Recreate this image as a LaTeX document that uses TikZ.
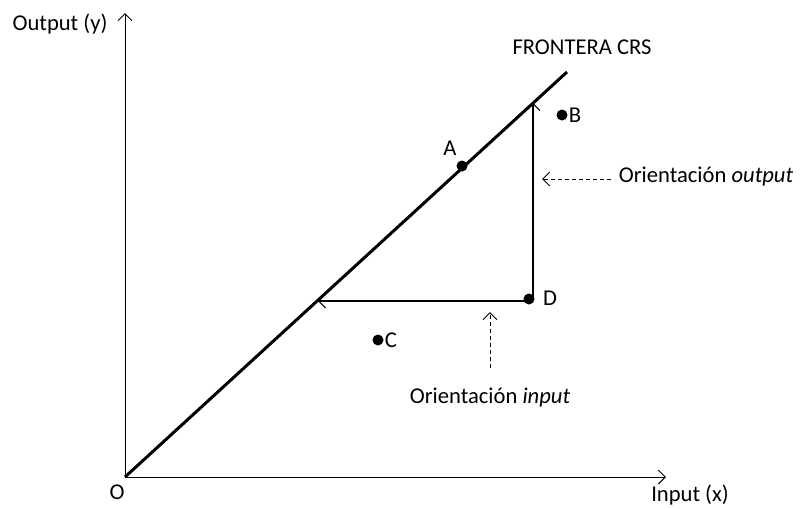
\documentclass[tikz,border=0pt]{standalone}
\usepackage{fontspec}
\setmainfont{Carlito}
\usetikzlibrary{arrows.meta}
\begin{document}
\begin{tikzpicture}[x=0.5pt,y=-0.5pt,
  font=\fontsize{11.3}{13.5}\selectfont,
  tip/.style={-{Straight Barb[length=3.5pt,width=7pt,line width=0.5pt]}},
  axis/.style={tip, line width=0.5pt},
  move/.style={tip, line width=0.6pt},
  hint/.style={tip, line width=0.5pt, dash pattern=on 2pt off 1.5pt},
  dot/.style={circle, fill=black, inner sep=0pt, minimum size=5.5pt}]
\useasboundingbox (0,0) rectangle (804,509);
% axes
\coordinate (O) at (125,477);
\coordinate (ytop) at (125,13);
\coordinate (xend) at (666,477);
\draw[axis] (O) -- (ytop);
\draw[axis] (O) -- (xend);
\node (ylab) at (60,24) {Output (y)};
\node (xlab) at (690,495) {Input (x)};
\node (olab) at (117,492) {O};
% frontier
\coordinate (fend) at (567,72);
\draw[line width=1.5pt] (O) -- (fend);
\node (flab) at (582,47) {FRONTERA CRS};
% units
\node[dot] (A) at (462,166) {};
\node[dot] (B) at (562,115) {};
\node[dot] (C) at (378,340) {};
\node[dot] (D) at (529,299) {};
\node (labA) at (450,148) {A};
\node (labB) at (575,115) {B};
\node (labC) at (391,340) {C};
\node (labD) at (550,298) {D};
% projections
\coordinate (Dv) at (533,297);
\coordinate (Dout) at (533,103);
\coordinate (Dh) at (529,301);
\coordinate (Din) at (318,301);
\draw[move] (Dv) -- (Dout);
\draw[move] (Dh) -- (Din);
% orientations
\node (outlab) at (706,177) {Orientación \textit{output}};
\node (inlab) at (490,398) {Orientación \textit{input}};
\coordinate (oa) at (611,179);
\coordinate (ob) at (542,179);
\coordinate (ia) at (490,368);
\coordinate (ib) at (490,312);
\draw[hint] (oa) -- (ob);
\draw[hint] (ia) -- (ib);
\end{tikzpicture}
\end{document}
